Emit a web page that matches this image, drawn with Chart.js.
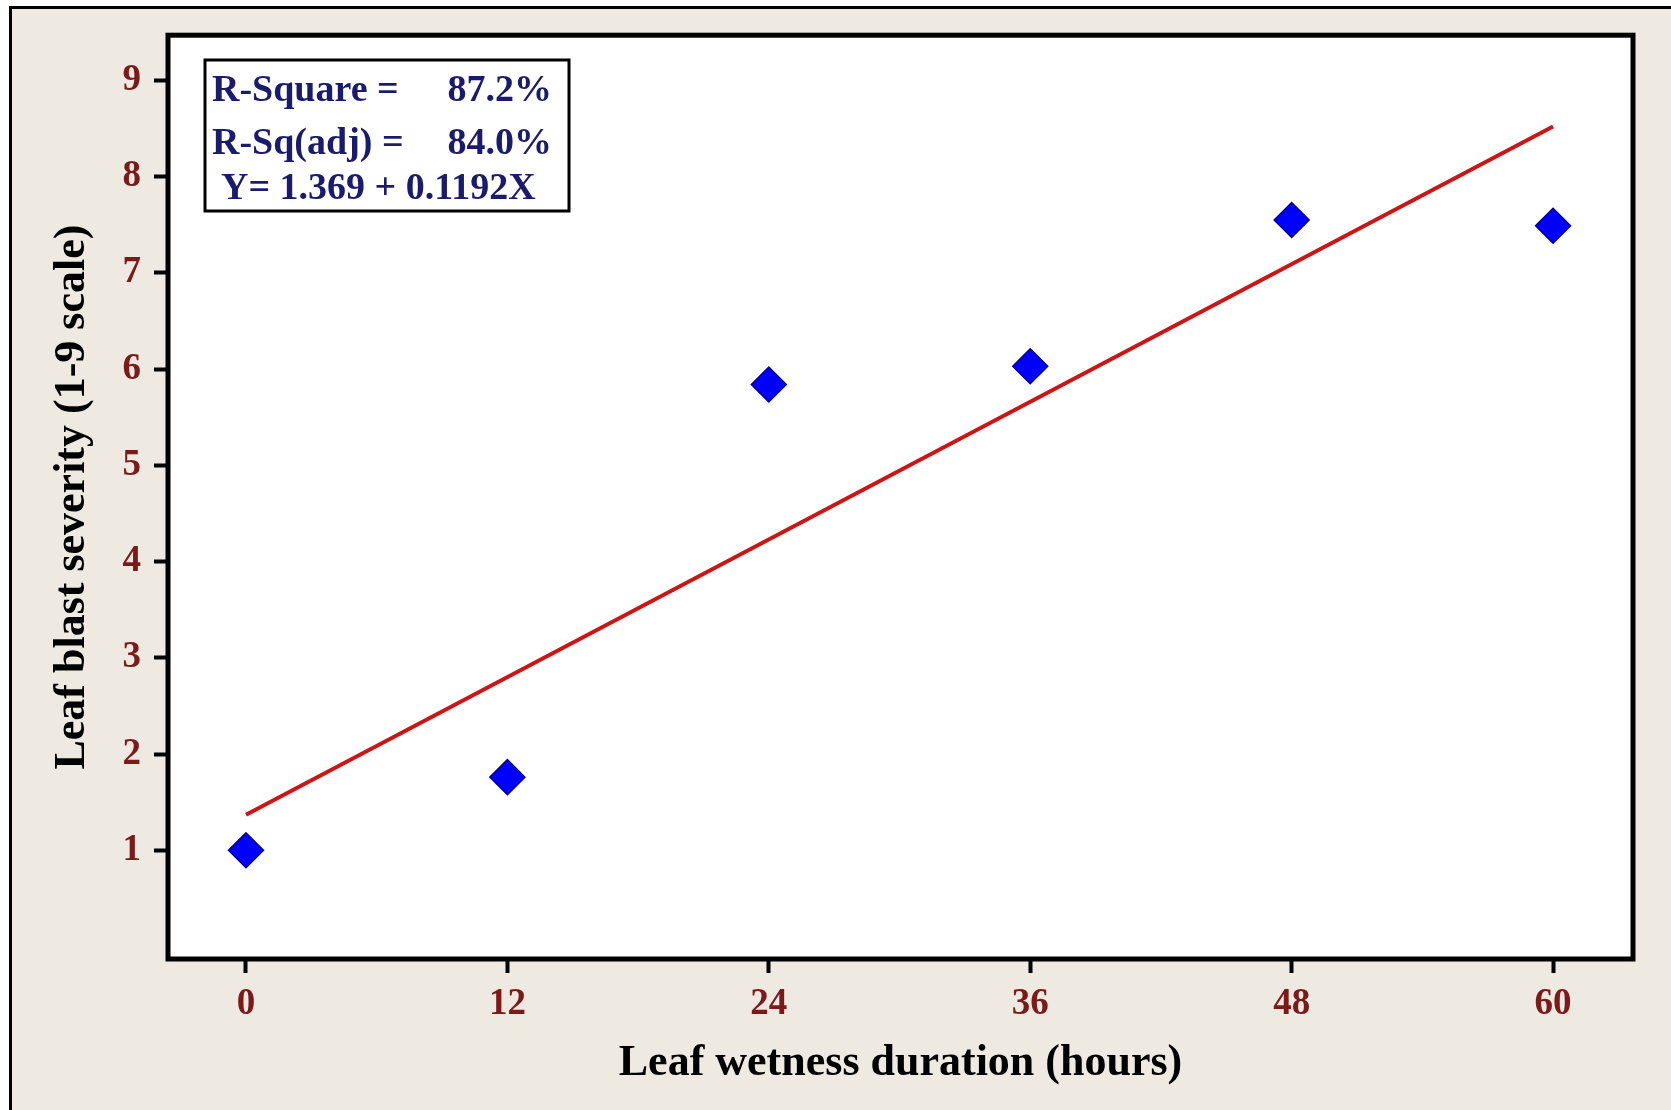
<!DOCTYPE html>
<html><head><meta charset="utf-8">
<script src="https://cdn.jsdelivr.net/npm/chart.js@4.4.1/dist/chart.umd.min.js"></script>
<style>html,body{margin:0;padding:0;background:#fff;}canvas{display:block;}</style>
</head><body>
<canvas id="c" width="1671" height="1110"></canvas>
<script>
const hours = [0, 12, 24, 36, 48, 60];
const severity = [1.0, 1.76, 5.84, 6.03, 7.55, 7.49];
const fitHours = [0, 60];
const fitSeverity = [1.369, 8.521];
const xTickValues = [0, 12, 24, 36, 48, 60];
const yTickValues = [1, 2, 3, 4, 5, 6, 7, 8, 9];
const statLabels = ['R-Square =', 'R-Sq(adj) =', 'Y= 1.369 + 0.1192X'];
const statValues = ['87.2%', '84.0%', ''];
const xTitle = 'Leaf wetness duration (hours)';
const yTitle = 'Leaf blast severity (1-9 scale)';

const SERIF = "'Liberation Serif', 'Times New Roman', serif";
const TICK_COLOR = '#7a1a1a';
const BOX_TEXT = '#1b1b6e';

const decorPlugin = {
  id: 'decor',
  beforeDraw(chart) {
    const {ctx, chartArea: a, width, height} = chart;
    ctx.save();
    ctx.fillStyle = '#ffffff';
    ctx.fillRect(0, 0, width, height);
    ctx.fillStyle = '#eeeae1';
    ctx.fillRect(10, 8, width - 10, height - 8);
    ctx.strokeStyle = '#000';
    ctx.lineWidth = 3;
    ctx.beginPath();
    ctx.moveTo(10.5, height);
    ctx.lineTo(10.5, 7.5);
    ctx.lineTo(width, 7.5);
    ctx.stroke();
    ctx.fillStyle = '#ffffff';
    ctx.fillRect(a.left, a.top, a.right - a.left, a.bottom - a.top);
    ctx.restore();
  },
  afterDraw(chart) {
    const {ctx, chartArea: a} = chart;
    ctx.save();
    ctx.strokeStyle = '#000';
    ctx.lineWidth = 5;
    ctx.strokeRect(a.left, a.top, a.right - a.left, a.bottom - a.top);
    // stats box
    ctx.fillStyle = '#ffffff';
    ctx.fillRect(205, 60, 364, 151);
    ctx.lineWidth = 3;
    ctx.strokeRect(205, 60, 364, 151);
    ctx.fillStyle = BOX_TEXT;
    ctx.font = "bold 38px " + SERIF;
    ctx.textBaseline = 'alphabetic';
    const baselines = [101, 154, 199];
    const lefts = [212, 212, 221];
    statLabels.forEach((t, i) => {
      ctx.textAlign = 'left';
      ctx.fillText(t, lefts[i], baselines[i]);
      if (statValues[i]) {
        ctx.textAlign = 'right';
        ctx.fillText(statValues[i], 552, baselines[i]);
      }
    });
    ctx.restore();
  }
};

new Chart(document.getElementById('c'), {
  type: 'scatter',
  data: {
    datasets: [
      {
        label: 'Observed',
        data: hours.map((h, i) => ({x: h, y: severity[i]})),
        pointStyle: 'rectRot',
        pointRadius: 17.5,
        pointHoverRadius: 17.5,
        backgroundColor: '#0000ff',
        borderColor: '#000099',
        borderWidth: 1.5,
        showLine: false
      },
      {
        label: 'Fit',
        type: 'line',
        data: fitHours.map((h, i) => ({x: h, y: fitSeverity[i]})),
        borderColor: '#cc1616',
        borderWidth: 4,
        pointRadius: 0,
        fill: false,
        tension: 0
      }
    ]
  },
  options: {
    responsive: false,
    animation: false,
    devicePixelRatio: 1,
    layout: {padding: {left: 0, top: 29, right: 38, bottom: 0}},
    plugins: {legend: {display: false}, tooltip: {enabled: false}},
    scales: {
      x: {
        type: 'linear',
        min: -3.58, max: 63.67,
        afterBuildTicks: s => { s.ticks = xTickValues.map(v => ({value: v})); },
        afterFit: s => { s.height = 151; },
        border: {display: false},
        grid: {drawOnChartArea: false, drawTicks: true, tickLength: 14, tickWidth: 4, tickColor: '#000'},
        ticks: {color: TICK_COLOR, font: {family: SERIF, size: 37, weight: 'bold'}, padding: 9, maxRotation: 0, autoSkip: false},
        title: {display: true, text: xTitle, color: '#000', font: {family: SERIF, size: 44, weight: 'bold'}, padding: {top: 0, bottom: 20}}
      },
      y: {
        type: 'linear',
        min: -0.13, max: 9.47,
        afterBuildTicks: s => { s.ticks = yTickValues.map(v => ({value: v})); },
        afterFit: s => { s.width = 168; },
        border: {display: false},
        grid: {drawOnChartArea: false, drawTicks: true, tickLength: 14, tickWidth: 4, tickColor: '#000'},
        ticks: {color: TICK_COLOR, font: {family: SERIF, size: 37, weight: 'bold'}, padding: 13, autoSkip: false},
        title: {display: true, text: yTitle, color: '#000', font: {family: SERIF, size: 44, weight: 'bold'}, padding: {top: 46, bottom: 0}}
      }
    }
  },
  plugins: [decorPlugin]
});
</script>
</body></html>
